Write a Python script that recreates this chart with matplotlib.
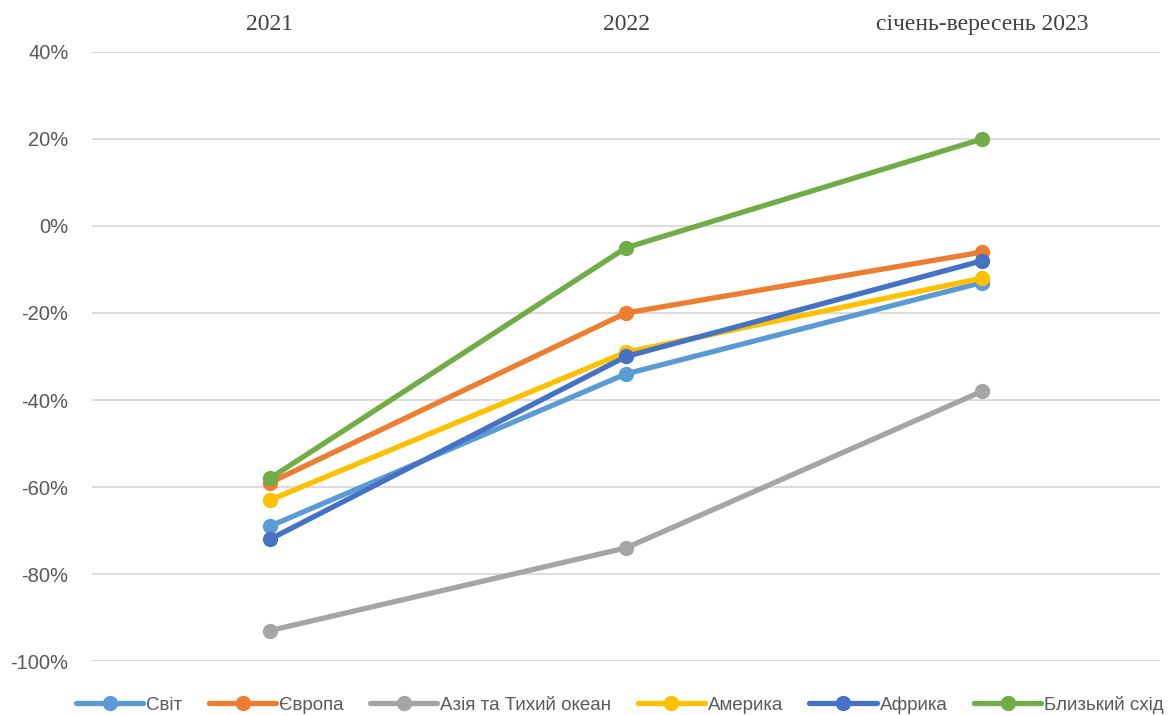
import numpy as np
import matplotlib.pyplot as plt

# категорії та дані (зміна, %)
periods = ["2021", "2022", "січень-вересень 2023"]
series_names = ["Світ", "Європа", "Азія та Тихий океан", "Америка", "Африка", "Близький схід"]
svit = [-69, -34, -13]
yevropa = [-59, -20, -6]
aziya = [-93, -74, -38]
amerika = [-63, -29, -12]
afrika = [-72, -30, -8]
blyzkyi_skhid = [-58, -5, 20]

colors = ["#5B9BD5", "#ED7D31", "#A5A5A5", "#FFC000", "#4472C4", "#70AD47"]

fig = plt.figure(figsize=(11.72, 7.15), dpi=100)
ax = fig.add_axes([0.0785, 0.0755, 0.9113, 0.8518])

x = np.arange(len(periods))
for vals, name, c in zip([svit, yevropa, aziya, amerika, afrika, blyzkyi_skhid], series_names, colors):
    ax.plot(x, vals, color=c, lw=3.8, marker="o", ms=10, label=name, solid_capstyle="round")

ax.set_xlim(-0.5, 2.5)
ax.set_ylim(-100, 40)
ax.set_yticks(range(-100, 41, 20))
ax.set_yticklabels([f"{v}%" for v in range(-100, 41, 20)], fontsize=14.5, color="#595959",
                   family="Liberation Sans")
ax.yaxis.grid(True, color="#D9D9D9", lw=1.3)
ax.set_axisbelow(True)
ax.tick_params(axis="y", length=0, pad=17)

ax.xaxis.tick_top()
ax.set_xticks(x)
ax.set_xticklabels(periods, fontsize=17, family="Liberation Serif", color="#404040")
ax.tick_params(axis="x", length=0, pad=12)

for s in ax.spines.values():
    s.set_visible(False)

fig.legend(loc="lower center", bbox_to_anchor=(0.529, -0.022), ncol=6, frameon=False,
           prop={"family": "Liberation Sans", "size": 13.5}, handlelength=3.6,
           handletextpad=0.15, columnspacing=1.4, labelcolor="#595959")

plt.savefig("out.png", dpi=100)
